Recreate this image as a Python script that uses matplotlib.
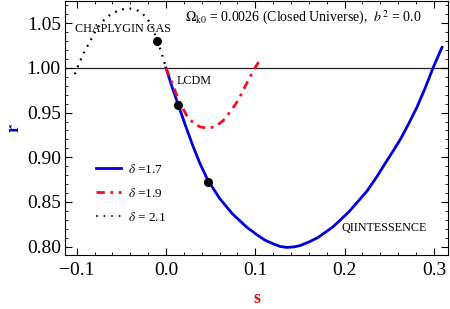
import matplotlib
matplotlib.use("Agg")
import matplotlib.pyplot as plt
from matplotlib.lines import Line2D
from matplotlib.ticker import MultipleLocator, FuncFormatter

plt.rcParams['font.family'] = ['Liberation Serif', 'DejaVu Serif']
plt.rcParams['mathtext.fontset'] = 'stix'

# delta = 1.7 (blue, solid)
s_17 = [0.0, 0.007, 0.014, 0.022, 0.030, 0.038, 0.047, 0.060, 0.074, 0.090, 0.102,
        0.111, 0.120, 0.128, 0.135, 0.143, 0.150, 0.160, 0.170, 0.187, 0.205, 0.225,
        0.236, 0.246, 0.255, 0.263, 0.272, 0.281, 0.290, 0.299, 0.309]
r_17 = [1.0, 0.978, 0.958, 0.935, 0.913, 0.893, 0.874, 0.854, 0.837, 0.822, 0.813,
        0.807, 0.803, 0.800, 0.799, 0.7995, 0.801, 0.805, 0.810, 0.822, 0.839, 0.862,
        0.878, 0.894, 0.908, 0.921, 0.938, 0.956, 0.977, 1.0, 1.023]

# delta = 1.9 (red, dash-dot)
s_19 = [0.0, 0.008, 0.015, 0.023, 0.030, 0.038, 0.046, 0.055, 0.064, 0.072, 0.081,
        0.090, 0.099, 0.104]
r_19 = [1.0, 0.980, 0.962, 0.947, 0.939, 0.934, 0.9325, 0.934, 0.941, 0.951, 0.964,
        0.982, 0.999, 1.007]

# delta = 2.1 (black, dotted)
s_21 = [-0.102, -0.097, -0.092, -0.086, -0.078, -0.070, -0.062, -0.052, -0.042,
        -0.031, -0.022, -0.016, -0.010, -0.005, 0.0]
r_21 = [0.993, 1.006, 1.017, 1.028, 1.043, 1.053, 1.060, 1.065, 1.067,
        1.064, 1.057, 1.047, 1.031, 1.017, 1.0]

# present-day points
s_dots = [-0.0097, 0.0138, 0.0474]
r_dots = [1.030, 0.959, 0.872]

legend_labels = [r'$\delta$ =1.7', r'$\delta$ =1.9', r'$\delta$ = 2.1']

fig = plt.figure(figsize=(4.5, 3.09), dpi=100)
ax = fig.add_axes([0.1444, 0.1748, 0.8512, 0.8232])

ax.axhline(1.0, color='#222222', lw=0.9, zorder=1)
ax.plot(s_17, r_17, color='#0000dd', lw=2.0, zorder=3)
ax.plot(s_19, r_19, color='#ee1122', lw=2.0, ls=(0, (3, 2, 1, 2)), zorder=3)
ax.plot(s_21, r_21, color='black', lw=1.6, ls=(0, (0.8, 2.6)), zorder=3)
ax.plot(s_dots, r_dots, 'o', color='black', ms=5.5, zorder=4)

ax.set_xlim(-0.1131, 0.3158)
ax.set_ylim(0.7905, 1.0754)

ax.xaxis.set_major_locator(MultipleLocator(0.1))
ax.xaxis.set_minor_locator(MultipleLocator(0.02))
ax.yaxis.set_major_locator(MultipleLocator(0.05))
ax.yaxis.set_minor_locator(MultipleLocator(0.01))
ax.xaxis.set_major_formatter(FuncFormatter(lambda v, p: ('%.1f' % v).replace('-', '\u2212')))
ax.yaxis.set_major_formatter(FuncFormatter(lambda v, p: '%.2f' % v))
ax.tick_params(which='both', direction='in', top=True, right=True, labelsize=14)
ax.tick_params(which='major', length=5, width=0.8)
ax.tick_params(which='minor', length=2.5, width=0.6)
ax.tick_params(axis='x', pad=5)
ax.tick_params(axis='y', pad=3)

ax.set_xlabel('s', color='#dd1111', fontweight='bold', fontsize=13, labelpad=8)
ax.set_ylabel('r', color='#0000dd', fontweight='bold', fontsize=13, labelpad=3)

ax.text(-0.102, 1.044, 'CHAPLYGIN GAS', fontsize=8.7, va='center', ha='left')
ax.text(0.0123, 0.985, 'LCDM', fontsize=8.7, va='center', ha='left')
ax.text(0.197, 0.8207, 'QIINTESSENCE', fontsize=8.7, va='center', ha='left')
ax.text(0.0213, 1.0564, r'$\Omega_{\mathrm{k0}}$ = 0.0026 (Closed Universe),  $b^2$ = 0.0',
        fontsize=10, va='center', ha='left')

handles = [Line2D([], [], color='#0000dd', lw=2.0),
           Line2D([], [], color='#ee1122', lw=2.0, ls=(0, (3, 2, 1, 2))),
           Line2D([], [], color='#552266', lw=1.6, ls=(0, (0.8, 2.6)))]
ax.legend(handles, legend_labels, loc='upper left', bbox_to_anchor=(0.05, 0.41),
          frameon=False, fontsize=9.5, handlelength=1.9, labelspacing=0.85,
          handletextpad=0.5)

fig.savefig('out.png', dpi=100)
